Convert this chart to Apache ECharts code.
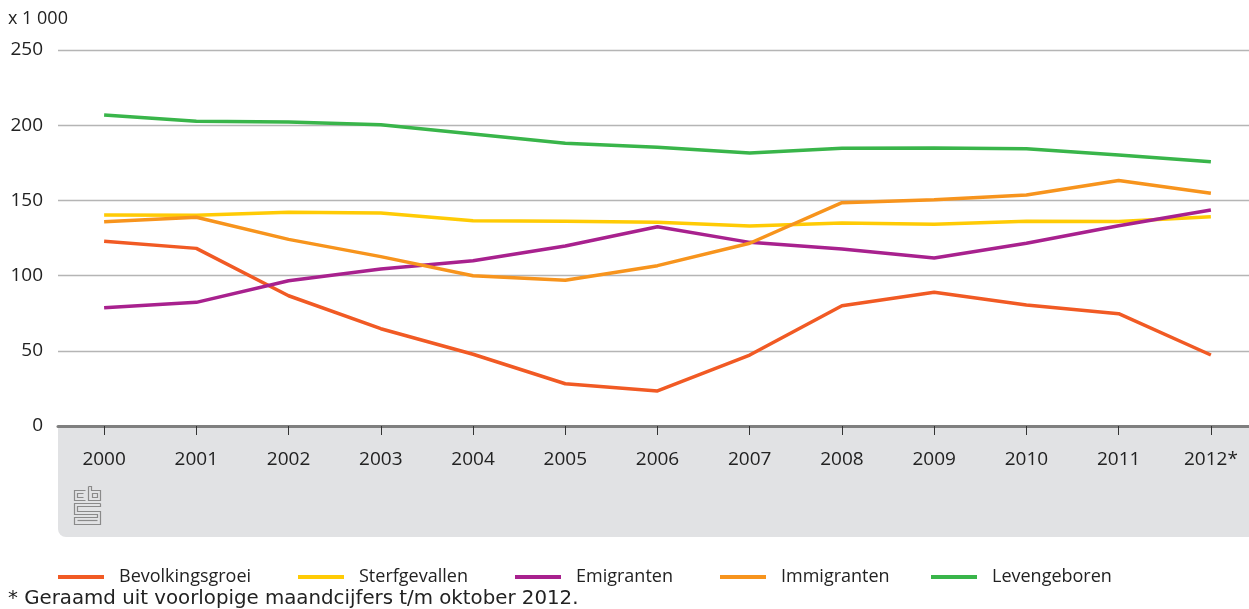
<!DOCTYPE html>
<html><head><meta charset="utf-8">
<script src="https://cdn.jsdelivr.net/npm/echarts@6/dist/echarts.min.js"></script>
<style>html,body{margin:0;padding:0;background:#fff}#c{width:1249px;height:609px}</style>
</head><body><div id="c"></div>
<script>
const years = ['2000','2001','2002','2003','2004','2005','2006','2007','2008','2009','2010','2011','2012*'];
const bevolkingsgroei = [122.8,118.1,86.6,64.7,47.7,28.1,23.3,47.2,80.0,88.9,80.5,74.7,47.2];
const sterfgevallen = [140.3,140.1,142.1,141.6,136.5,136.2,135.4,133.0,135.0,134.1,136.1,135.9,139.2];
const emigranten = [78.7,82.2,96.6,104.4,109.9,119.7,132.5,122.1,117.7,111.7,121.5,133.2,143.6];
const immigranten = [135.8,138.8,124.1,112.6,99.9,96.9,106.6,121.5,148.5,150.5,153.6,163.3,154.7];
const levengeboren = [206.8,202.6,202.1,200.3,194.1,188.0,185.3,181.5,184.6,184.8,184.4,180.2,175.7];
const yTicks = [0,50,100,150,200,250];

const names = ['Bevolkingsgroei','Sterfgevallen','Emigranten','Immigranten','Levengeboren'];
const colors = ['#F15A24','#FFCB05','#A8218E','#F7941D','#39B54A'];
const dataSets = [bevolkingsgroei,sterfgevallen,emigranten,immigranten,levengeboren];
const legendX = [58,298,515,720,931];
const FONT = 'Open Sans';

const chart = echarts.init(document.getElementById('c'));
chart.setOption({
  animation:false,
  textStyle:{fontFamily:FONT},
  grid:{left:58,width:1199,top:50,bottom:183,containLabel:false,outerBoundsMode:'none'},
  xAxis:{type:'category',data:years,boundaryGap:true,
    axisLine:{show:true,lineStyle:{color:'#7f7f7f',width:3}},
    axisTick:{show:true,alignWithLabel:true,length:9,lineStyle:{color:'#333',width:1}},
    axisLabel:{margin:24,fontSize:19,color:'#222',fontFamily:FONT}},
  yAxis:{type:'value',min:yTicks[0],max:yTicks[yTicks.length-1],interval:50,
    axisLine:{show:false},axisTick:{show:false},
    axisLabel:{margin:15,fontSize:19,color:'#222',fontFamily:FONT},
    splitLine:{lineStyle:{color:'#b5b5b5',width:1.3}}},
  legend: names.map((n,i)=>({data:[n],left:legendX[i],top:568,padding:0,itemWidth:46,itemHeight:4,
    icon:'rect',textStyle:{fontSize:18,color:'#222',fontFamily:FONT,padding:[0,0,10,10]}})),
  graphic:[
    {type:'rect',z:-10,shape:{x:58,y:426,width:1200,height:111,r:[0,0,0,8]},style:{fill:'#e1e2e4'}},
    {type:'text',left:8,top:10,style:{text:'x 1 000',font:'18px "Open Sans"',fill:'#222'}},
    {type:'text',left:8,top:589,style:{text:'* Geraamd uit voorlopige maandcijfers t/m oktober 2012.',font:'19.8px "DejaVu Sans"',fill:'#222'}},
    {type:'group',left:72,top:484,children:[
      {type:'polyline',shape:{points:[[12,1],[1,1],[1,11],[12,11]]},style:{stroke:'#8a8a8a',lineWidth:1.2,fill:null}},
      {type:'polyline',shape:{points:[[10,4],[4,4],[4,8],[10,8]]},style:{stroke:'#8a8a8a',lineWidth:1.2,fill:null}},
      {type:'polyline',shape:{points:[[15,-3],[15,11],[27,11],[27,1],[18,1],[18,-3],[15,-3]]},style:{stroke:'#8a8a8a',lineWidth:1.2,fill:null}},
      {type:'rect',shape:{x:19,y:4,width:5,height:4},style:{stroke:'#8a8a8a',lineWidth:1.2,fill:null}},
      {type:'polyline',shape:{points:[[27,14],[1,14],[1,25],[24,25],[24,28],[1,28],[1,35],[27,35],[27,22],[4,22],[4,17],[27,17],[27,14]]},style:{stroke:'#8a8a8a',lineWidth:1.2,fill:null}},
      {type:'polyline',shape:{points:[[4,31],[24,31]]},style:{stroke:'#8a8a8a',lineWidth:1.2,fill:null}}
    ]}
  ],
  series: names.map((n,i)=>({name:n,type:'line',data:dataSets[i],symbol:'none',
    lineStyle:{color:colors[i],width:3.5},itemStyle:{color:colors[i]},z:2+i}))
});
</script></body></html>
